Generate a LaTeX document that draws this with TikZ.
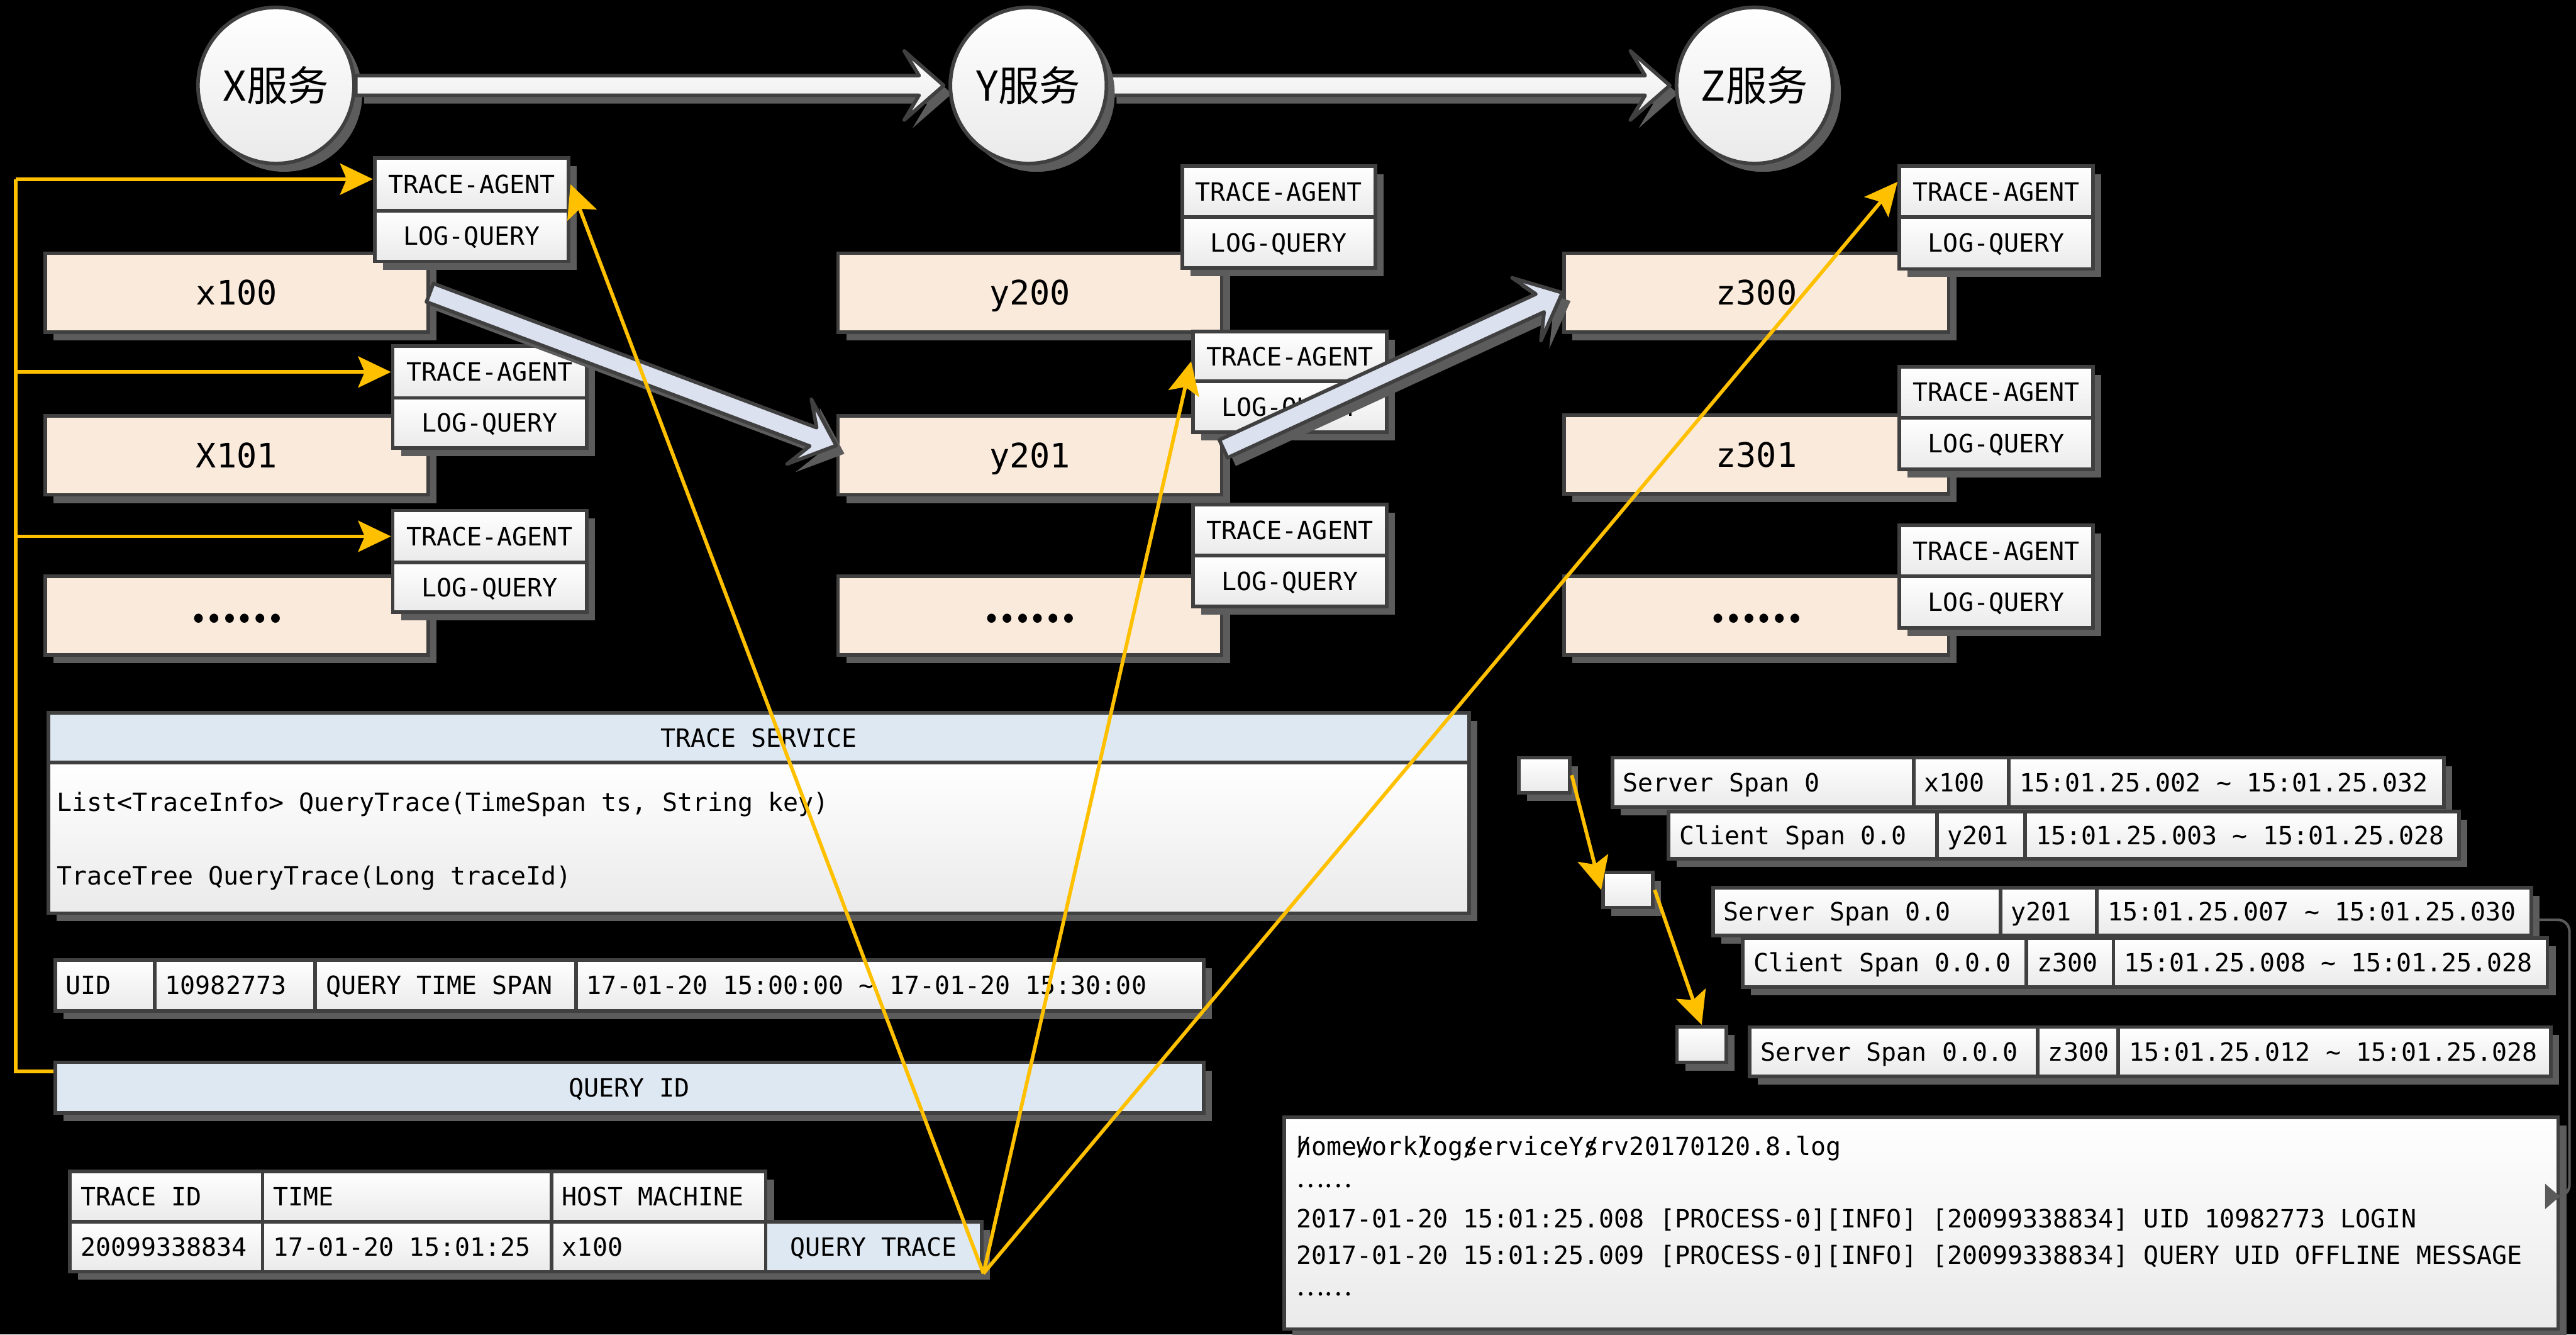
\documentclass[tikz,border=0pt]{standalone}
\usepackage{fontspec}
\usetikzlibrary{calc,shadows,arrows.meta}
\newfontfamily\monof{DejaVu Sans Mono}
\newfontfamily\cjkf{Noto Sans CJK SC}
\definecolor{bord}{HTML}{404040}
\definecolor{shgray}{HTML}{5C5C5C}
\definecolor{peachc}{HTML}{FAEADC}
\definecolor{bluec}{HTML}{DEE8F2}
\definecolor{cellbot}{HTML}{EAEAEA}
\definecolor{arrowc}{HTML}{DCE1EF}
\definecolor{yelc}{HTML}{FFC000}
\definecolor{gconc}{HTML}{5A5A5A}

\newcommand\fmono{\monof\fontsize{15.3}{18}\selectfont}
\newcommand\fbig{\monof\fontsize{20.5}{24}\selectfont}
\newcommand\fsvc{\cjkf\fontsize{25}{28}\selectfont}
\newcommand\fdots{\cjkf\bfseries\fontsize{25}{28}\selectfont}
\newcommand\fsdots{\cjkf\fontsize{16}{18}\selectfont}
\newcommand\tl{\textasciitilde}

\tikzset{
  shadowed/.style={drop shadow={shadow xshift=5pt,shadow yshift=-5pt,opacity=1,fill=shgray}},
  boxbase/.style={draw=bord,line width=2.2pt,inner sep=0pt,shadowed},
  peach/.style={boxbase,fill=peachc,font=\fbig,text height=15pt,text depth=0pt},
  dotbox/.style={peach,font=\fdots,text height=8pt},
  cell/.style={boxbase,top color=white,bottom color=cellbot,font=\fmono,text height=11.2pt,text depth=0pt},
  bluecell/.style={boxbase,fill=bluec,font=\fmono,text height=11.2pt,text depth=0pt},
  plain/.style={font=\fmono,text height=11.2pt,text depth=0pt,inner sep=0pt,anchor=west},
  svc/.style={circle,minimum size=95pt,inner sep=0pt,draw=bord,line width=2.2pt,top color=white,bottom color=cellbot,shadowed,font=\fsvc},
  blk/.style={draw=bord,line width=2.2pt,line join=round,fill=arrowc,shadowed},
  wblk/.style={draw=bord,line width=2.2pt,line join=round,top color=white,bottom color=cellbot,shadowed},
  yarrow/.style={draw=yelc,line width=2.2pt,-{Stealth[length=20pt,width=19pt,inset=4pt]}},
  gline/.style={draw=gconc,line width=1.6pt,-{Triangle[length=9pt,width=15pt]}}
}

% box from corner (x1,y1) to (x2,y2), centred text
\newcommand\boxat[7][cell]{\node[#1,anchor=north west,minimum width={#5pt-#3pt},minimum height={#6pt-#4pt}] (#2) at (#3,#4) {#7};}
% same, text set flush left
\newcommand\cellat[7][cell]{\node[#1,anchor=north west,minimum width={#5pt-#3pt},minimum height={#6pt-#4pt}] (#2) at (#3,#4) {\makebox[\dimexpr#5pt-#3pt-13pt\relax][l]{#7}};}
% wide block arrow from #2 to #3
\newcommand\blockarrow[3][blk]{%
  \coordinate (ba1) at ($(#3)!24pt!(#2)$);
  \coordinate (ba2) at ($(#3)!15pt!(#2)$);
  \path[#1] ($(#2)!6pt!90:(#3)$) -- ($(ba2)!6pt!-90:(#2)$) -- ($(ba1)!21pt!-90:(#2)$) -- (#3)
    -- ($(ba1)!21pt!90:(#2)$) -- ($(ba2)!6pt!90:(#2)$) -- ($(#2)!6pt!-90:(#3)$) -- cycle;}

\begin{document}
\begin{tikzpicture}[x=1pt,y=-1pt]
\fill[black] (0,0) rectangle (1568,812);
\useasboundingbox (0,0) rectangle (1568,812);

% service hosts
\boxat[peach]{xa}{26.5}{153}{259.5}{201}{x100}
\boxat[peach]{xb}{26.5}{252}{259.5}{300}{X101}
\boxat[dotbox]{xc}{26.5}{349.5}{259.5}{397.5}{……}
\boxat[peach]{ya}{509}{153}{742.5}{201}{y200}
\boxat[peach]{yb}{509}{252}{742.5}{300}{y201}
\boxat[dotbox]{yc}{509}{349.5}{742.5}{397.5}{……}
\boxat[peach]{za}{951}{153}{1185}{201}{z300}
\boxat[peach]{zb}{951}{251.5}{1185}{299.5}{z301}
\boxat[dotbox]{zc}{951}{349.5}{1185}{397.5}{……}

% agents
\boxat{xta1}{227}{95}{345}{127}{TRACE-AGENT}
\boxat{xlq1}{227}{127}{345}{158}{LOG-QUERY}
\boxat{xta2}{238}{209.5}{356}{241}{TRACE-AGENT}
\boxat{xlq2}{238}{241}{356}{271.5}{LOG-QUERY}
\boxat{xta3}{238}{309.5}{356}{341}{TRACE-AGENT}
\boxat{xlq3}{238}{341}{356}{371.5}{LOG-QUERY}
\boxat{yta1}{718.5}{100}{836}{131}{TRACE-AGENT}
\boxat{ylq1}{718.5}{131}{836}{162}{LOG-QUERY}
\boxat{yta2}{725}{200.5}{843}{231}{TRACE-AGENT}
\boxat{ylq2}{725}{231}{843}{262}{LOG-QUERY}
\boxat{yta3}{725}{306}{843}{337}{TRACE-AGENT}
\boxat{ylq3}{725}{337}{843}{368}{LOG-QUERY}
\boxat{zta1}{1155}{100}{1273}{131}{TRACE-AGENT}
\boxat{zlq1}{1155}{131}{1273}{162.5}{LOG-QUERY}
\boxat{zta2}{1155}{222}{1273}{253}{TRACE-AGENT}
\boxat{zlq2}{1155}{253}{1273}{284.5}{LOG-QUERY}
\boxat{zta3}{1155}{318.5}{1273}{349.5}{TRACE-AGENT}
\boxat{zlq3}{1155}{349.5}{1273}{381}{LOG-QUERY}

% trace service
\boxat[bluecell]{tsh}{28.5}{432.5}{893}{463}{TRACE SERVICE}
\boxat{tsb}{28.5}{463}{893}{554.5}{}
\node[plain] (ts1) at (34.5,488) {List<TraceInfo> QueryTrace(TimeSpan ts, String key)};
\node[plain] (ts2) at (34.5,533) {TraceTree QueryTrace(Long traceId)};

% query form
\cellat{u1}{32.5}{583}{93}{614}{UID}
\cellat{u2}{93}{583}{190.7}{614}{10982773}
\cellat{u3}{190.7}{583}{349.5}{614}{QUERY TIME SPAN}
\cellat{u4}{349.5}{583}{731.5}{614}{17-01-20 15:00:00 \tl{} 17-01-20 15:30:00}
\boxat[bluecell]{qid}{32.5}{645.3}{731.5}{676}{QUERY ID}

% result table
\cellat{t1}{41.5}{711.6}{158.7}{742.2}{TRACE ID}
\cellat{t2}{158.7}{711.6}{334.6}{742.2}{TIME}
\cellat{t3}{334.6}{711.6}{465}{742.2}{HOST MACHINE}
\cellat{d1}{41.5}{742.2}{158.7}{772.7}{20099338834}
\cellat{d2}{158.7}{742.2}{334.6}{772.7}{17-01-20 15:01:25}
\cellat{d3}{334.6}{742.2}{465}{772.7}{x100}
\boxat[bluecell]{qtr}{465}{742.2}{596.4}{772.7}{QUERY TRACE}

% span tree
\boxat{sq1}{923.5}{460}{954.5}{481.2}{}
\boxat{sq2}{974.6}{529.7}{1005}{551.1}{}
\boxat{sq3}{1019.7}{623.6}{1049.7}{645.3}{}
\cellat{r1a}{980.3}{460}{1163.7}{490}{Server Span 0}
\cellat{r1b}{1163.7}{460}{1221.7}{490}{x100}
\cellat{r1c}{1221.7}{460}{1486.4}{490}{15:01.25.002 \tl{} 15:01.25.032}
\cellat{r2a}{1014.6}{492.7}{1177.9}{521.5}{Client Span 0.0}
\cellat{r2b}{1177.9}{492.7}{1231.6}{521.5}{y201}
\cellat{r2c}{1231.6}{492.7}{1495.8}{521.5}{15:01.25.003 \tl{} 15:01.25.028}
\cellat{r3a}{1041.6}{539}{1216.5}{568.2}{Server Span 0.0}
\cellat{r3b}{1216.5}{539}{1275.3}{568.2}{y201}
\cellat{r3c}{1275.3}{539}{1539.7}{568.2}{15:01.25.007 \tl{} 15:01.25.030}
\cellat{r4a}{1059.7}{569.7}{1232.4}{599.6}{Client Span 0.0.0}
\cellat{r4b}{1232.4}{569.7}{1285.3}{599.6}{z300}
\cellat{r4c}{1285.3}{569.7}{1549.5}{599.6}{15:01.25.008 \tl{} 15:01.25.028}
\cellat{r5a}{1064}{623.8}{1239.2}{654}{Server Span 0.0.0}
\cellat{r5b}{1239.2}{623.8}{1288.3}{654}{z300}
\cellat{r5c}{1288.3}{623.8}{1551.7}{654}{15:01.25.012 \tl{} 15:01.25.028}

% log file
\boxat{logb}{780.5}{678.7}{1556}{807.6}{}
\node[plain] (lg1) at (789,697.5) {\rlap{/}home\rlap{/}work\rlap{/}log\rlap{/}serviceY\rlap{/}srv20170120.8.log};
\node[plain,font=\fsdots,text height=6pt] (lg2) at (789,719.5) {……};
\node[plain] (lg3) at (789,741.5) {2017-01-20 15:01:25.008 [PROCESS-0][INFO] [20099338834] UID 10982773 LOGIN};
\node[plain] (lg4) at (789,763.5) {2017-01-20 15:01:25.009 [PROCESS-0][INFO] [20099338834] QUERY UID OFFLINE MESSAGE};
\node[plain,font=\fsdots,text height=6pt] (lg5) at (789,785.5) {……};

% call path between hosts
\coordinate (yin) at ($(yb.west)+(0,-6)$);
\coordinate (yout) at ($(yb.east)+(0,-4)$);
\blockarrow{xa.east}{yin}
\blockarrow{yout}{za.west}

% services
\node[svc] (X) at (168,52) {X服务};
\node[svc] (Y) at (626,52) {Y服务};
\node[svc] (Z) at (1068,52) {Z服务};
\coordinate (ytip) at ($(Y.west)+(-3,0)$);
\coordinate (ztip) at ($(Z.west)+(-3,0)$);
\blockarrow[wblk]{X.east}{ytip}
\blockarrow[wblk]{Y.east}{ztip}
\node[svc] at (Y) {Y服务};
\node[svc] at (Z) {Z服务};

% query id broadcast to the agents
\coordinate (busB) at ($(qid.north west)!0.2!(qid.south west)$);
\coordinate (busTop) at (9.6,109);
\draw[yarrow,-] (busB) -| (busTop);
\draw[yarrow] (busTop) -- (busTop -| xta1.west);
\draw[yarrow] (busTop |- xta2.west) -- (xta2.west);
\draw[yarrow] (busTop |- xta3.west) -- (xta3.west);

% trace query to the agents on the path
\draw[yarrow] (qtr.south east) -- (xta1.east);
\draw[yarrow] (qtr.south east) -- ($(yta2.west)+(0,3)$);
\draw[yarrow] (qtr.south east) -- ($(zta1.west)+(0,-6)$);

% span tree links
\draw[yarrow] (sq1.east) -- (sq2.west);
\draw[yarrow] (sq2.east) -- (sq3.north);

% span to log lines
\coordinate (gbend) at (1564,728);
\draw[gline] ($(r3c.east)+(0,5)$) [rounded corners=7pt] -| (gbend) [sharp corners] -- (logb.east |- gbend);
\end{tikzpicture}
\end{document}
